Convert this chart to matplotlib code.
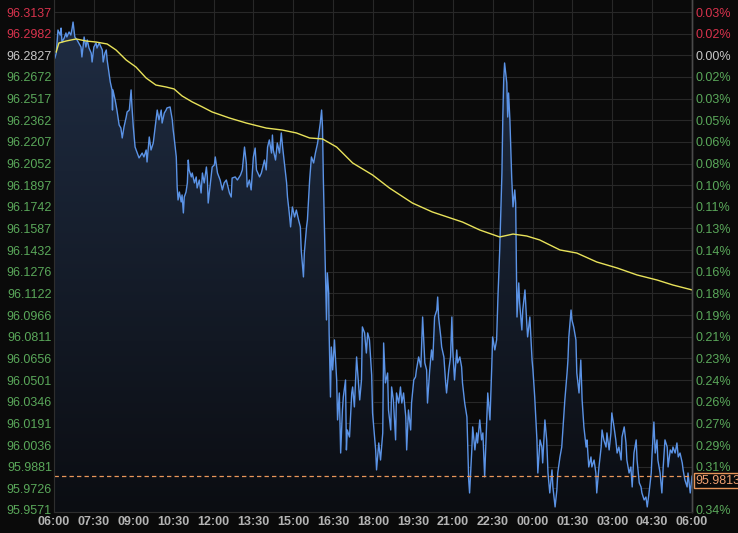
import matplotlib
matplotlib.use("Agg")
import matplotlib.pyplot as plt
import matplotlib.transforms as mtransforms
from matplotlib.patches import Polygon
import numpy as np

# ---------------- data ----------------
# minutes after 06:00 and price (blue line)
minutes = [2, 5, 9, 14, 16, 18, 23, 27, 29, 34, 38, 41, 43, 47, 52, 61, 63, 68, 72, 75,
           79, 84, 86, 90, 95, 97, 102, 106, 109, 111, 115, 118, 120, 124, 127, 131, 132, 133, 138, 142,
           147, 151, 154, 158, 163, 165, 170, 174, 176, 179, 183, 188, 192, 199, 203, 208, 210, 215, 219, 224,
           228, 233, 237, 242, 244, 249, 253, 255, 262, 267, 269, 271, 276, 278, 280, 283, 287, 289, 292, 294,
           298, 301, 303, 305, 310, 312, 317, 321, 323, 328, 332, 335, 339, 344, 346, 348, 353, 357, 362, 364,
           369, 375, 380, 384, 389, 396, 400, 402, 409, 414, 421, 425, 430, 434, 436, 441, 445, 450, 454, 457,
           464, 468, 475, 479, 482, 486, 491, 493, 495, 500, 504, 509, 513, 516, 520, 525, 527, 531, 534, 538,
           543, 547, 552, 556, 558, 563, 565, 570, 572, 577, 581, 586, 590, 595, 599, 601, 604, 606, 608, 610,
           613, 615, 617, 620, 621, 624, 626, 629, 633, 638, 640, 644, 647, 651, 653, 658, 660, 662, 667, 672,
           674, 678, 683, 685, 690, 694, 696, 701, 705, 708, 712, 717, 719, 726, 728, 733, 737, 742, 744, 748,
           753, 755, 760, 762, 766, 771, 773, 778, 782, 785, 789, 794, 796, 800, 805, 807, 812, 816, 818, 823,
           828, 830, 832, 837, 841, 843, 848, 852, 855, 859, 864, 866, 868, 873, 875, 880, 884, 886, 891, 895,
           898, 900, 904, 909, 911, 916, 920, 922, 927, 932, 934, 936, 938, 943, 945, 950, 954, 956, 961, 965,
           968, 972, 977, 979, 984, 988, 990, 995, 999, 1002, 1006, 1011, 1013, 1015, 1017, 1022, 1024, 1026, 1029, 1031,
           1033, 1036, 1040, 1042, 1045, 1049, 1051, 1056, 1058, 1063, 1067, 1069, 1074, 1079, 1081, 1085, 1090, 1092, 1097, 1101,
           1103, 1108, 1112, 1115, 1119, 1124, 1126, 1131, 1135, 1137, 1142, 1146, 1149, 1153, 1158, 1160, 1162, 1167, 1169, 1173,
           1178, 1180, 1185, 1189, 1192, 1196, 1201, 1203, 1207, 1212, 1214, 1219, 1223, 1225, 1230, 1235, 1237, 1241, 1246, 1248,
           1253, 1257, 1259, 1264, 1268, 1271, 1275, 1280, 1282, 1287, 1291, 1293, 1298, 1302, 1305, 1309, 1314, 1316, 1321, 1325,
           1327, 1332, 1336, 1339, 1343, 1348, 1350, 1354, 1357, 1361, 1363, 1368, 1372, 1375, 1379, 1384, 1386, 1391, 1395, 1397,
           1402, 1406, 1409, 1413, 1418, 1420, 1424, 1429, 1431, 1436, 1440]
prices = [96.2808, 96.2843, 96.3008, 96.2972, 96.3022, 96.2922, 96.2951, 96.2987, 96.2958, 96.2994,
          96.2972, 96.3022, 96.3065, 96.2958, 96.2937, 96.2886, 96.2815, 96.2958, 96.2886, 96.2937,
          96.2879, 96.2843, 96.2779, 96.2886, 96.2915, 96.2879, 96.2915, 96.2886, 96.2865, 96.2779,
          96.2843, 96.2865, 96.2793, 96.2700, 96.2636, 96.2579, 96.2435, 96.2579, 96.2507, 96.2435,
          96.2328, 96.2306, 96.2235, 96.2314, 96.2385, 96.2421, 96.2435, 96.2579, 96.2457, 96.2314,
          96.2170, 96.2127, 96.2092, 96.2127, 96.2099, 96.2149, 96.2063, 96.2242, 96.2149, 96.2199,
          96.2306, 96.2435, 96.2364, 96.2435, 96.2342, 96.2414, 96.2435, 96.2450, 96.2457, 96.2364,
          96.2292, 96.2242, 96.2099, 96.1884, 96.1791, 96.1848, 96.1777, 96.1827, 96.1698, 96.1812,
          96.1848, 96.1913, 96.2077, 96.2006, 96.1956, 96.1984, 96.1913, 96.1956, 96.1877, 96.1934,
          96.1841, 96.1984, 96.1913, 96.2027, 96.1956, 96.1769, 96.1913, 96.2027, 96.2042, 96.2099,
          96.1984, 96.1934, 96.1863, 96.1913, 96.1934, 96.1841, 96.1812, 96.1948, 96.1956, 96.1934,
          96.1970, 96.2006, 96.2170, 96.2056, 96.1884, 96.1934, 96.1863, 96.2099, 96.2163, 96.2006,
          96.1956, 96.1984, 96.2077, 96.2006, 96.2170, 96.2221, 96.2127, 96.2256, 96.2149, 96.2077,
          96.2199, 96.2127, 96.2271, 96.2170, 96.2056, 96.1913, 96.1812, 96.1698, 96.1598, 96.1741,
          96.1669, 96.1719, 96.1648, 96.1598, 96.1433, 96.1240, 96.1411, 96.1598, 96.1648, 96.1934,
          96.2099, 96.2056, 96.2127, 96.2199, 96.2292, 96.2342, 96.2435, 96.2314, 96.1934, 96.1648,
          96.1218, 96.0932, 96.1268, 96.1125, 96.0839, 96.0380, 96.0738, 96.0574, 96.0789, 96.0502,
          96.0216, 96.0409, 95.9979, 96.0287, 96.0380, 96.0502, 96.0001, 96.0144, 96.0094, 96.0409,
          96.0452, 96.0309, 96.0667, 96.0574, 96.0359, 96.0502, 96.0882, 96.0839, 96.0695, 96.0839,
          96.0789, 96.0538, 96.0266, 96.0001, 95.9858, 96.0051, 95.9929, 96.0123, 96.0767, 96.0481,
          96.0552, 96.0287, 96.0144, 96.0452, 96.0359, 96.0073, 96.0409, 96.0337, 96.0452, 96.0337,
          96.0409, 96.0237, 96.0001, 96.0287, 96.0144, 96.0337, 96.0502, 96.0524, 96.0574, 96.0667,
          96.0595, 96.0767, 96.0953, 96.0624, 96.0574, 96.0337, 96.0574, 96.0717, 96.0645, 96.0953,
          96.1003, 96.1096, 96.0953, 96.0810, 96.0738, 96.0667, 96.0481, 96.0409, 96.0574, 96.0667,
          96.0953, 96.0717, 96.0502, 96.0717, 96.0624, 96.0667, 96.0595, 96.0481, 96.0337, 96.0237,
          96.0001, 95.9786, 95.9693, 96.0001, 96.0166, 96.0001, 96.0123, 96.0051, 96.0216, 96.0073,
          96.0123, 95.9808, 96.0237, 96.0409, 96.0216, 96.0595, 96.0810, 96.0717, 96.0789, 96.1096,
          96.1433, 96.1984, 96.2385, 96.2650, 96.2772, 96.2629, 96.2385, 96.2557, 96.2364, 96.2149,
          96.1956, 96.1741, 96.1863, 96.1769, 96.0953, 96.1197, 96.1053, 96.0860, 96.1003, 96.1147,
          96.0910, 96.0810, 96.0953, 96.0645, 96.0574, 96.0380, 96.0073, 95.9836, 96.0073, 96.0022,
          95.9908, 96.0216, 96.0073, 95.9836, 95.9693, 95.9858, 95.9736, 95.9593, 95.9715, 95.9836,
          95.9951, 96.0022, 96.0166, 96.0359, 96.0552, 96.0645, 96.0810, 96.1003, 96.0932, 96.0882,
          96.0789, 96.0552, 96.0409, 96.0645, 96.0359, 96.0166, 96.0022, 96.0073, 95.9879, 95.9951,
          95.9879, 95.9929, 95.9836, 95.9693, 95.9879, 96.0022, 96.0144, 96.0073, 96.0022, 96.0123,
          96.0001, 96.0123, 96.0266, 96.0166, 96.0073, 95.9979, 96.0022, 95.9929, 96.0094, 96.0166,
          96.0051, 95.9929, 95.9836, 95.9879, 95.9736, 95.9979, 96.0073, 95.9929, 95.9765, 95.9736,
          95.9693, 95.9643, 95.9664, 95.9593, 95.9693, 95.9836, 95.9979, 96.0201, 95.9979, 96.0073,
          95.9929, 95.9836, 95.9693, 95.9879, 96.0073, 96.0022, 95.9879, 96.0001, 95.9979, 96.0022,
          95.9979, 96.0051, 95.9951, 95.9979, 95.9908, 95.9858, 95.9786, 95.9736, 95.9836, 95.9693,
          95.9813]

# moving average (yellow line)
ma_minutes = [5, 11, 27, 50, 73, 95, 120, 140, 163, 185, 208, 230, 253, 271, 289, 312, 335, 357,
              396, 434, 479, 515, 547, 577, 606, 638, 674, 719, 757, 809, 854, 922, 961, 1006,
              1036, 1067, 1096, 1142, 1180, 1225, 1271, 1316, 1361, 1397, 1440]
ma_prices = [96.2851, 96.2915, 96.2929, 96.2944, 96.2929, 96.2922, 96.2908, 96.2865, 96.2793, 96.2743,
             96.2664, 96.2614, 96.2600, 96.2586, 96.2536, 96.2493, 96.2457, 96.2421, 96.2378, 96.2342,
             96.2306, 96.2292, 96.2271, 96.2235, 96.2228, 96.2170, 96.2056, 96.1970, 96.1877, 96.1769,
             96.1705, 96.1633, 96.1576, 96.1526, 96.1547, 96.1533, 96.1505, 96.1433, 96.1411, 96.1347,
             96.1304, 96.1254, 96.1218, 96.1182, 96.1147]

ref_price = 96.2827
last_price = 95.9813

y_labels = ["96.3137", "96.2982", "96.2827", "96.2672", "96.2517", "96.2362", "96.2207", "96.2052",
            "96.1897", "96.1742", "96.1587", "96.1432", "96.1276", "96.1122", "96.0966", "96.0811",
            "96.0656", "96.0501", "96.0346", "96.0191", "96.0036", "95.9881", "95.9726", "95.9571"]
# percent labels on the right (the one under the price marker is hidden)
pct_labels = ["0.03%", "0.02%", "0.00%", "0.02%", "0.03%", "0.05%", "0.06%", "0.08%",
              "0.10%", "0.11%", "0.13%", "0.14%", "0.16%", "0.18%", "0.19%", "0.21%",
              "0.23%", "0.24%", "0.26%", "0.27%", "0.29%", "0.31%", "", "0.34%"]
x_labels = ["06:00", "07:30", "09:00", "10:30", "12:00", "13:30", "15:00", "16:30", "18:00",
            "19:30", "21:00", "22:30", "00:00", "01:30", "03:00", "04:30", "06:00"]

# ---------------- style ----------------
BG = "#0a0a0a"
GRID = "#282828"
GREEN = "#5aa85a"
RED = "#d8334d"
WHITE = "#c8c8c8"
XLAB = "#b4b4b4"
BLUE = "#5b93e6"
YELLOW = "#e8e25a"
ORANGE = "#e8965a"
FONT = "Liberation Sans"
FS = 9

W, H = 738, 533
fig = plt.figure(figsize=(W / 100, H / 100), dpi=100, facecolor=BG)
left_px, right_px, bottom_px, top_px = 54, 692, 512, 0
ax = fig.add_axes([left_px / W, (H - bottom_px) / H, (right_px - left_px) / W, (bottom_px - top_px) / H])
ax.set_facecolor(BG)

y_vals = [float(s) for s in y_labels]
step = (y_vals[0] - y_vals[-1]) / (len(y_vals) - 1)
ylo = y_vals[-1] - step * 2 / 21.65
yhi = y_vals[0] + step * 12 / 21.65
ax.set_xlim(0, 1440)
ax.set_ylim(ylo, yhi)

# gradient fill under the line
t = np.array(minutes, dtype=float)
p = np.array(prices)
c_top = np.array([0x20, 0x2e, 0x45]) / 255.0
c_bot = np.array([0x0b, 0x0d, 0x12]) / 255.0
n = 256
frac = np.linspace(0, 1, n)[:, None]
grad = (c_top[None, :] * (1 - frac) + c_bot[None, :] * frac)[:, None, :]
im = ax.imshow(grad, extent=[0, 1440, ylo, yhi], aspect="auto", origin="upper", zorder=1,
               interpolation="bilinear")
verts = [(t[0], ylo)] + list(zip(t, p)) + [(t[-1], ylo)]
poly = Polygon(verts, closed=True, facecolor="none", edgecolor="none", transform=ax.transData)
ax.add_patch(poly)
im.set_clip_path(poly)

# grid
ax.set_yticks(y_vals)
ax.set_xticks(np.arange(0, 1441, 90))
ax.grid(True, color=GRID, lw=0.8, zorder=0)
ax.set_axisbelow(True)

ax.plot(t, p, color=BLUE, lw=1.0, zorder=3)
ax.plot(ma_minutes, ma_prices, color=YELLOW, lw=1.0, zorder=4)
ax.axhline(last_price, color=ORANGE, lw=0.9, ls=(0, (3.5, 2.5)), zorder=5)

# left tick labels
ax.set_yticklabels(y_labels, fontsize=FS, family=FONT)
for lab, v in zip(ax.get_yticklabels(), y_vals):
    lab.set_color(RED if v > ref_price + 1e-9 else (WHITE if abs(v - ref_price) < 1e-9 else GREEN))
ax.set_xticklabels(x_labels, fontsize=FS, family=FONT, color=XLAB, fontweight="bold")
ax.tick_params(axis="y", length=0, pad=1.5)
ax.tick_params(axis="x", length=0, pad=3)

# right axis with percentages
ax2 = ax.twinx()
ax2.set_ylim(ylo, yhi)
ax2.set_yticks(y_vals)
ax2.set_yticklabels(pct_labels, fontsize=FS, family=FONT)
for lab, v in zip(ax2.get_yticklabels(), y_vals):
    lab.set_color(RED if v > ref_price + 1e-9 else (WHITE if abs(v - ref_price) < 1e-9 else GREEN))
ax2.tick_params(axis="y", length=0, pad=2.5)

for a in (ax, ax2):
    a.spines["top"].set_visible(False)
    a.spines["left"].set_color("#2e2e2e")
    a.spines["bottom"].set_color("#2e2e2e")
    a.spines["right"].set_color("#4a4a4a")
    a.spines["right"].set_linewidth(1.0)

# last price marker (sits slightly below the line like the reference box)
trans = mtransforms.blended_transform_factory(ax.transAxes, ax.transData)
ax2.text(1.005, last_price - step * 0.2, f"{last_price:.4f}", transform=trans, ha="left", va="center",
         fontsize=FS, family=FONT, color="#f0a070", clip_on=False, zorder=10,
         bbox=dict(boxstyle="square,pad=0.12", fc=BG, ec=ORANGE, lw=1.0))

fig.savefig("out.png", dpi=100, facecolor=BG)
